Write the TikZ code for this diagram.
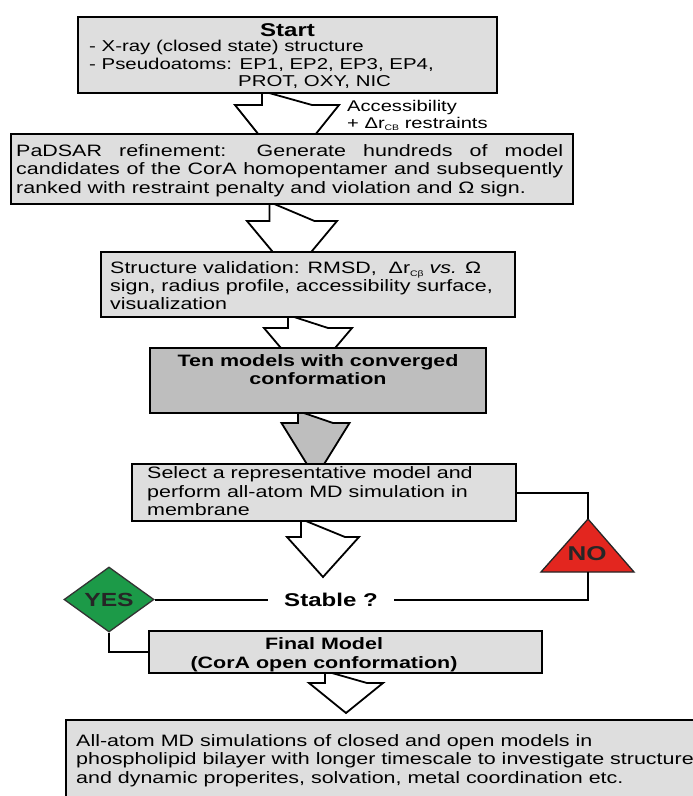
\documentclass[tikz,border=0pt]{standalone}
\usepackage{fontspec}
\setmainfont{Liberation Sans}[FakeStretch=1.3]
\usetikzlibrary{shapes.geometric,calc}
\pgfdeclarelayer{bg}
\pgfdeclarelayer{paper}
\pgfsetlayers{paper,bg,main}
\definecolor{boxgray}{HTML}{DEDEDE}
\definecolor{darkgray}{HTML}{BEBEBE}
\definecolor{yesgreen}{HTML}{1C9A48}
\definecolor{nored}{HTML}{E3261F}
\newcommand\subs[1]{\raisebox{-0.35ex}{\fontsize{8}{8}\selectfont #1}}
\newcommand\myblockarrow[7]{%
  \begin{pgfonlayer}{bg}
  \draw[blk, fill=#7] ($(#1.south west)+(#2-#3,-2)$) -- ++(0,#4+2) -- ++(-#5+#3,0)
     -- ++(#5,#6) -- ++(#5,-#6) -- ++(-#5+#3,0) -- cycle;
  \end{pgfonlayer}}
\tikzset{
  box/.style={draw=black, line width=2pt, fill=boxgray, anchor=north west, inner sep=0pt, outer sep=0pt},
  blk/.style={draw=black, line width=1.8pt, line join=miter},
  conn/.style={draw=black, line width=2pt},
  txt/.style={anchor=base west, inner sep=0pt, font=\fontsize{16.5}{18.5}\selectfont},
  stxt/.style={anchor=base west, inner sep=0pt, font=\fontsize{15.7}{18}\selectfont},
  btxt/.style={anchor=base, inner sep=0pt, font=\fontsize{16.5}{18.5}\selectfont\bfseries},
}
\begin{document}
\begin{tikzpicture}[x=1pt,y=-1pt]
\useasboundingbox (0,0) rectangle (693,796);
\clip (0,0) rectangle (693,796);
\begin{pgfonlayer}{paper}
\fill[white] (0,0) rectangle (693,796);
\end{pgfonlayer}

% boxes
\node[box, minimum width=419pt, minimum height=76pt] (start) at (78,17) {};
\node[box, minimum width=562pt, minimum height=70pt] (padsar) at (11,134) {};
\node[box, minimum width=414pt, minimum height=65pt] (valid) at (101,252) {};
\node[box, fill=darkgray, minimum width=336pt, minimum height=65pt] (ten) at (150,348) {};
\node[box, minimum width=384pt, minimum height=57pt] (select) at (132,464) {};
\node[box, minimum width=393pt, minimum height=42pt] (final) at (149,631) {};
\node[box, minimum width=640pt, minimum height=100pt] (last) at (66,720) {};

% block arrows
\myblockarrow{start}{209}{25}{12}{52}{65}{white}
\myblockarrow{padsar}{281}{22.5}{17}{45}{54}{white}
\myblockarrow{valid}{207}{20}{11}{44}{52}{white}
\myblockarrow{ten}{165.5}{17.5}{10}{34}{55}{darkgray}
\myblockarrow{select}{191}{22}{16}{36}{40}{white}
\myblockarrow{final}{197}{21}{10}{37}{30}{white}

% start text
\node[anchor=base, inner sep=0pt, font=\fontsize{18.5}{20}\selectfont\bfseries] (t0) at (287.5,36.5) {Start};
\node[stxt] (t1) at (89,51) {- X-ray (closed state) structure};
\node[stxt] (t2) at (89,69) {- Pseudoatoms: EP1, EP2, EP3, EP4,};
\node[stxt] (t3) at (238,86) {PROT, OXY, NIC};
\node[stxt, font=\fontsize{15.5}{18}\selectfont] (acc1) at (347,111) {Accessibility};
\node[stxt, font=\fontsize{15.5}{18}\selectfont] (acc2) at (347,128) {+ Δr\subs{CB} restraints};

% padsar text
\node[txt] (p1) at (16,156) {\makebox[547pt][s]{PaDSAR refinement: Generate hundreds of model}};
\node[txt] (p2) at (16,174) {\makebox[547pt][s]{candidates of the CorA homopentamer and subsequently}};
\node[txt] (p3) at (16,193) {ranked with restraint penalty and violation and Ω sign.};

% validation text
\node[txt] (v1) at (110,273) {Structure validation: RMSD,\ \ Δr\subs{Cβ} \textit{vs.} Ω};
\node[txt] (v2) at (110,291) {sign, radius profile, accessibility surface,};
\node[txt] (v3) at (110,309) {visualization};

% ten text
\node[btxt] (n1) at (318,366) {Ten models with converged};
\node[btxt] (n2) at (318,384) {conformation};

% select text
\node[txt] (s1) at (147,478) {Select a representative model and};
\node[txt] (s2) at (147,497) {perform all-atom MD simulation in};
\node[txt] (s3) at (147,515) {membrane};

% decision
\node[inner xsep=16pt, inner ysep=2pt, font=\fontsize{18.5}{20}\selectfont\bfseries] (stable) at (331,599.5) {Stable ?};
\node[diamond, draw=black!80, line width=1.3pt, fill=yesgreen, minimum width=90pt, minimum height=65pt,
      inner sep=0pt, aspect=1.4, text=black!85, font=\fontsize{19}{20}\selectfont\bfseries] (yes) at (109,599.5) {YES};
\coordinate (noA) at (588,519);
\coordinate (noL) at (541,572);
\coordinate (noR) at (634,572);
\coordinate (noB) at (588,572);
\draw[draw=black!85, line width=1.3pt, fill=nored, line join=miter] (noA) -- (noL) -- (noR) -- cycle;
\node[inner sep=0pt, text=black!85, font=\fontsize{20}{20}\selectfont\bfseries] (no) at (587,554) {NO};

\draw[conn] (select.east) -| (noA);
\draw[conn] (noB) |- (stable.east);
\draw[conn] (yes.east) -- (stable.west);
\draw[conn] (yes.south) |- (final.west);

% final text
\node[btxt] (f1) at (324,649) {Final Model};
\node[btxt] (f2) at (324,668) {(CorA open conformation)};

% last text
\node[txt] (l1) at (76,746) {All-atom MD simulations of closed and open models in};
\node[txt] (l2) at (76,764) {phospholipid bilayer with longer timescale to investigate structure};
\node[txt] (l3) at (76,783) {and dynamic properites, solvation, metal coordination etc.};
\end{tikzpicture}
\end{document}
